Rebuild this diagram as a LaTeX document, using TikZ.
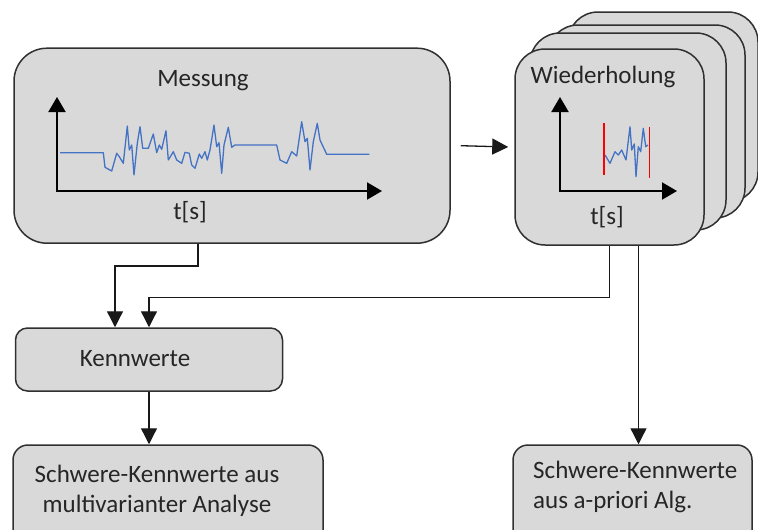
\documentclass[tikz,border=0pt]{standalone}
\usepackage{fontspec}
\setmainfont{Carlito}
\usetikzlibrary{arrows.meta}
\definecolor{boxfill}{HTML}{D9D9D9}
\definecolor{boxline}{HTML}{303030}
\definecolor{sig}{HTML}{4472C4}
\definecolor{cut}{HTML}{FF0000}
\tikzset{
  box/.style={draw=boxline, fill=boxfill, line width=1.5pt, inner sep=0pt},
  lbl/.style={font=\fontsize{25}{30}\selectfont, inner sep=0pt, text=black!85},
  arr/.style={draw=black!90, line width=1.3pt, -{Triangle[length=16pt,width=16pt]}},
  axis/.style={draw=black, line width=2pt, -{Triangle[length=15pt,width=17pt]}},
  sigline/.style={draw=sig, line width=1.3pt, line join=round},
  cutline/.style={draw=cut, line width=1.7pt},
}
\begin{document}
\begin{tikzpicture}[x=1pt,y=-1pt]
\useasboundingbox (0,0) rectangle (758,530);
% Messung box
\node[box, rounded corners=33pt, minimum width=436pt, minimum height=195pt] (M) at (232,145.7) {};
\node[lbl] (Mt) at (203,81) {Messung};
\draw[axis] (57,191) -- (57,97);
\draw[axis] (56,191) -- (382,191);
\node[lbl] (Mts) at (190,212) {t[s]};
\draw[sigline] (60,152.7) -- (103.3,152.7) -- (105,167.3) -- (111.7,171) -- (116.7,153.3) -- (119.3,156.7) -- (123.3,163.3) -- (127.3,126) -- (129.3,150) -- (131.7,145) -- (134,175) -- (137.3,143.3) -- (140,126.7) -- (142.7,148.3) -- (148.3,148.3) -- (153.3,134) -- (156.7,152.7) -- (159.3,145) -- (161.7,149.3) -- (166,130.7) -- (168.3,160) -- (173.3,151.7) -- (176.7,160) -- (181.7,163.3) -- (185,152.3) -- (189.3,153.3) -- (191.7,165) -- (195,168.3) -- (199.3,154) -- (201.7,158.3) -- (205,151.7) -- (207.3,160) -- (210,150) -- (214,125) -- (216.7,146.7) -- (219,142.7) -- (221.7,173.3) -- (224,145) -- (228.3,127.3) -- (231.7,147.3) -- (235,145) -- (276.7,145) -- (280,160) -- (286.7,163.3) -- (291.7,151.7) -- (296.7,156) -- (301.7,121.7) -- (305,141.7) -- (307.3,138.3) -- (310,170) -- (313.3,141.7) -- (317.3,123.3) -- (320,140) -- (326.7,154.3) -- (369.3,154.3);
% Wiederholung stack
\node[box, rounded corners=30pt, minimum width=190pt, minimum height=190pt] (W3) at (663,107) {};
\node[box, rounded corners=30pt, minimum width=197pt, minimum height=193pt] (W2) at (646.5,121.5) {};
\node[box, rounded corners=30pt, minimum width=196pt, minimum height=197pt] (W1) at (628,131.5) {};
\node[box, rounded corners=30pt, minimum width=189pt, minimum height=196pt] (W) at (609.5,147) {};
\node[lbl] (Wt) at (603,77) {Wiederholung};
\draw[axis] (560,192) -- (560,97);
\draw[axis] (559,191) -- (677,191);
\node[lbl] (Wts) at (607,217) {t[s]};
\draw[sigline] (605,155) -- (610,163.3) -- (615,151.7) -- (618.3,155) -- (621.7,150) -- (626,160) -- (630,126.7) -- (631.7,150) -- (634.3,144) -- (636,176.7) -- (638.3,146.7) -- (640.7,151.7) -- (643.3,128.3) -- (645.7,146.7) -- (648,145);
\draw[cutline] (604,123) -- (604,175);
\draw[cutline] (649.5,126.7) -- (649.5,178);
% Kennwerte
\node[box, rounded corners=12pt, minimum width=267pt, minimum height=63pt] (K) at (149,359.5) {};
\node[lbl] (Kt) at (135,359) {Kennwerte};
% bottom boxes
\node[box, rounded corners=15pt, minimum width=310pt, minimum height=110pt] (BL) at (168,500) {};
\node[lbl, align=center] (BLt) at (157,491) {Schwere-Kennwerte aus\\multivarianter Analyse};
\node[box, rounded corners=15pt, minimum width=239pt, minimum height=110pt] (BR) at (632.5,500) {};
\node[lbl, align=left, anchor=west] (BRt) at (533,487) {Schwere-Kennwerte\\aus a-priori Alg.};
% connectors
\draw[arr] ([xshift=10pt]M.east) -- ([xshift=-6pt]W.west);
\draw[arr] ([xshift=-34pt]M.south) -- ++(0,22) -| ([xshift=-34pt]K.north);
\draw[arr] (W.south) -- ++(0,52) -| (K.north);
\draw[arr] ([xshift=29pt]W.south) -- ([xshift=29pt]W.south |- BR.north);
\draw[arr] (K.south) -- (K.south |- BL.north);
\end{tikzpicture}
\end{document}
